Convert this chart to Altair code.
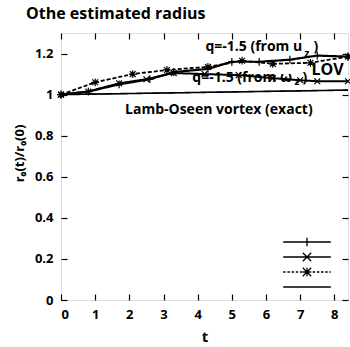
import altair as alt
import pandas as pd

# ---------------- data ----------------
series_names = ["q=-1.5 (from u_z)", "q=-1.5 (from w_z)", "LOV", "Lamb-Oseen vortex (exact)"]

t_uz = [0, 0.8, 1.7, 2.6, 3.3, 4.3, 5.0, 5.8, 6.7, 7.5, 8.4]
r_uz = [1.0, 1.015, 1.05, 1.075, 1.11, 1.125, 1.16, 1.16, 1.17, 1.19, 1.185]

t_wz = [0, 0.8, 1.7, 2.5, 3.3, 4.2, 5.2, 6.2, 7.0, 7.5, 8.4]
r_wz = [1.0, 1.015, 1.055, 1.075, 1.105, 1.10, 1.095, 1.08, 1.07, 1.065, 1.065]

t_lov = [0, 1.0, 2.1, 3.1, 4.3, 5.3, 6.2, 7.3, 8.4]
r_lov = [1.0, 1.06, 1.10, 1.12, 1.135, 1.165, 1.15, 1.155, 1.185]

t_exact = [0, 8.4]
r_exact = [1.0, 1.022]

x_ticks = [0, 1, 2, 3, 4, 5, 6, 7, 8]
y_ticks = [0, 0.2, 0.4, 0.6, 0.8, 1, 1.2]

rows = []
for name, ts, rs in zip(series_names, [t_uz, t_wz, t_lov, t_exact], [r_uz, r_wz, r_lov, r_exact]):
    for t, r in zip(ts, rs):
        rows.append({"series": name, "t": t, "r": r})
df = pd.DataFrame(rows)
df_marked = df[df["series"] != series_names[3]]

# ---------------- styles ----------------
FONT = "Open Sans"
x_scale = alt.Scale(domain=[0, 8.4], nice=False, zero=False)
y_scale = alt.Scale(domain=[0, 1.3], nice=False, zero=False)

marker_paths = [
    "M-1,0H1M0,-1V1",
    "M-0.75,-0.75L0.75,0.75M-0.75,0.75L0.75,-0.75",
    "M-1,0H1M0,-1V1M-0.75,-0.75L0.75,0.75M-0.75,0.75L0.75,-0.75",
]

L = 3.4
m = 0.6
dash_parts = []
pos = -L
while pos < L:
    end = min(pos + 0.35, L)
    dash_parts.append(f"M{pos:.2f},0H{end:.2f}")
    pos += 0.6
dashed_line = "".join(dash_parts)
legend_paths = [
    f"M-{L},0H{L}M0,-{m}V{m}",
    f"M-{L},0H{L}M-{m},-{m}L{m},{m}M-{m},{m}L{m},-{m}",
    dashed_line + f"M-{m},0H{m}M0,-{m}V{m}M-{m},-{m}L{m},{m}M-{m},{m}L{m},-{m}",
    f"M-{L},0H{L}",
]

common_axis = dict(
    offset=-6, tickSize=6, domain=False, grid=False, tickColor="black", tickWidth=1.2,
    labelFont=FONT, labelFontWeight="bold", labelFontSize=13, labelColor="black",
    titleFont=FONT, titleFontWeight="bold", titleColor="black",
)

x_axis = alt.Axis(title="t", values=x_ticks, labelPadding=8, titleFontSize=15, titlePadding=8, **common_axis)
y_axis = alt.Axis(title="r₀(t)/r₀(0)", values=y_ticks, format="~g", labelPadding=8,
                  titleFontSize=13, titlePadding=8, titleY=120, **common_axis)

x_axis_top = alt.Axis(orient="top", values=x_ticks, labels=False, title=None, offset=-6, tickSize=6,
                      domain=False, grid=False, tickColor="black", tickWidth=1.2)
y_axis_right = alt.Axis(orient="right", values=y_ticks, labels=False, title=None, offset=-6, tickSize=6,
                        domain=False, grid=False, tickColor="black", tickWidth=1.2)

# ---------------- layers ----------------
lines = alt.Chart(df).mark_line(color="black").encode(
    x=alt.X("t:Q", scale=x_scale, axis=x_axis),
    y=alt.Y("r:Q", scale=y_scale, axis=y_axis),
    detail="series:N",
    strokeDash=alt.StrokeDash("series:N", scale=alt.Scale(domain=series_names,
                              range=[[1, 0], [1, 0], [4, 2], [1, 0]]), legend=None),
    strokeWidth=alt.StrokeWidth("series:N", scale=alt.Scale(domain=series_names,
                                range=[2.2, 1.6, 1.0, 1.0]), legend=None),
)

points = alt.Chart(df_marked).mark_point(color="black", filled=False, strokeWidth=1.2, size=60, opacity=1).encode(
    x=alt.X("t:Q", scale=x_scale, axis=None),
    y=alt.Y("r:Q", scale=y_scale, axis=None),
    shape=alt.Shape("series:N", scale=alt.Scale(domain=series_names[:3], range=marker_paths), legend=None),
)

legend_layer = alt.Chart(df).transform_filter("false").mark_point(
    color="black", filled=False, strokeWidth=1.3, opacity=1
).encode(
    x=alt.X("t:Q", scale=x_scale, axis=None),
    y=alt.Y("r:Q", scale=y_scale, axis=None),
    shape=alt.Shape("series:N", scale=alt.Scale(domain=series_names, range=legend_paths),
                    legend=alt.Legend(orient="none", legendX=238, legendY=201, title=None,
                                      labelExpr="''", labelFontSize=1, symbolSize=196,
                                      symbolStrokeWidth=1.3, symbolStrokeColor="black",
                                      symbolFillColor="transparent", rowPadding=0, padding=0,
                                      labelOffset=0)),
)

mirror = alt.Chart(df[df["series"] == series_names[3]]).mark_line(color="black", strokeWidth=1).encode(
    x=alt.X("t:Q", scale=x_scale, axis=x_axis_top),
    y=alt.Y("r:Q", scale=y_scale, axis=y_axis_right),
)


def label(text, t, r, size=14, align="left", weight="bold"):
    return alt.Chart(pd.DataFrame({"a": [0]})).mark_text(
        text=text, font=FONT, fontSize=size, fontWeight=weight, color="black",
        align=align, baseline="middle"
    ).encode(
        x=alt.XDatum(t, scale=x_scale, axis=None),
        y=alt.YDatum(r, scale=y_scale, axis=None),
    )


texts = [
    label("q=-1.5 (from u", 7.06, 1.234, align="right"),
    label("z", 7.27, 1.2, size=10, align="right"),
    label(")", 7.53, 1.234, align="right"),
    label("q=-1.5 (from ω", 6.76, 1.083, align="right"),
    label("z", 6.98, 1.063, size=10, align="right"),
    label(")", 7.21, 1.083, align="right"),
    label("LOV", 7.8, 1.122, size=16, align="center"),
    label("Lamb-Oseen vortex (exact)", 4.62, 0.927, size=14, align="center"),
]

chart = alt.layer(lines, points, legend_layer, mirror, *texts).resolve_scale(
    shape="independent"
).resolve_axis(
    x="independent", y="independent"
).properties(
    width=287, height=267,
    autosize=alt.AutoSizeParams(type="none"),
    padding={"left": 61, "top": 33, "right": 2, "bottom": 47},
    title=alt.TitleParams("Othe estimated radius", anchor="start", frame="group", dx=-35, offset=10,
                          fontSize=16, font=FONT, fontWeight="bold", color="black"),
).configure_view(stroke="black", strokeWidth=1.2).configure(background="white")

chart.save("out.html", embed_options={"renderer": "svg", "actions": False})
